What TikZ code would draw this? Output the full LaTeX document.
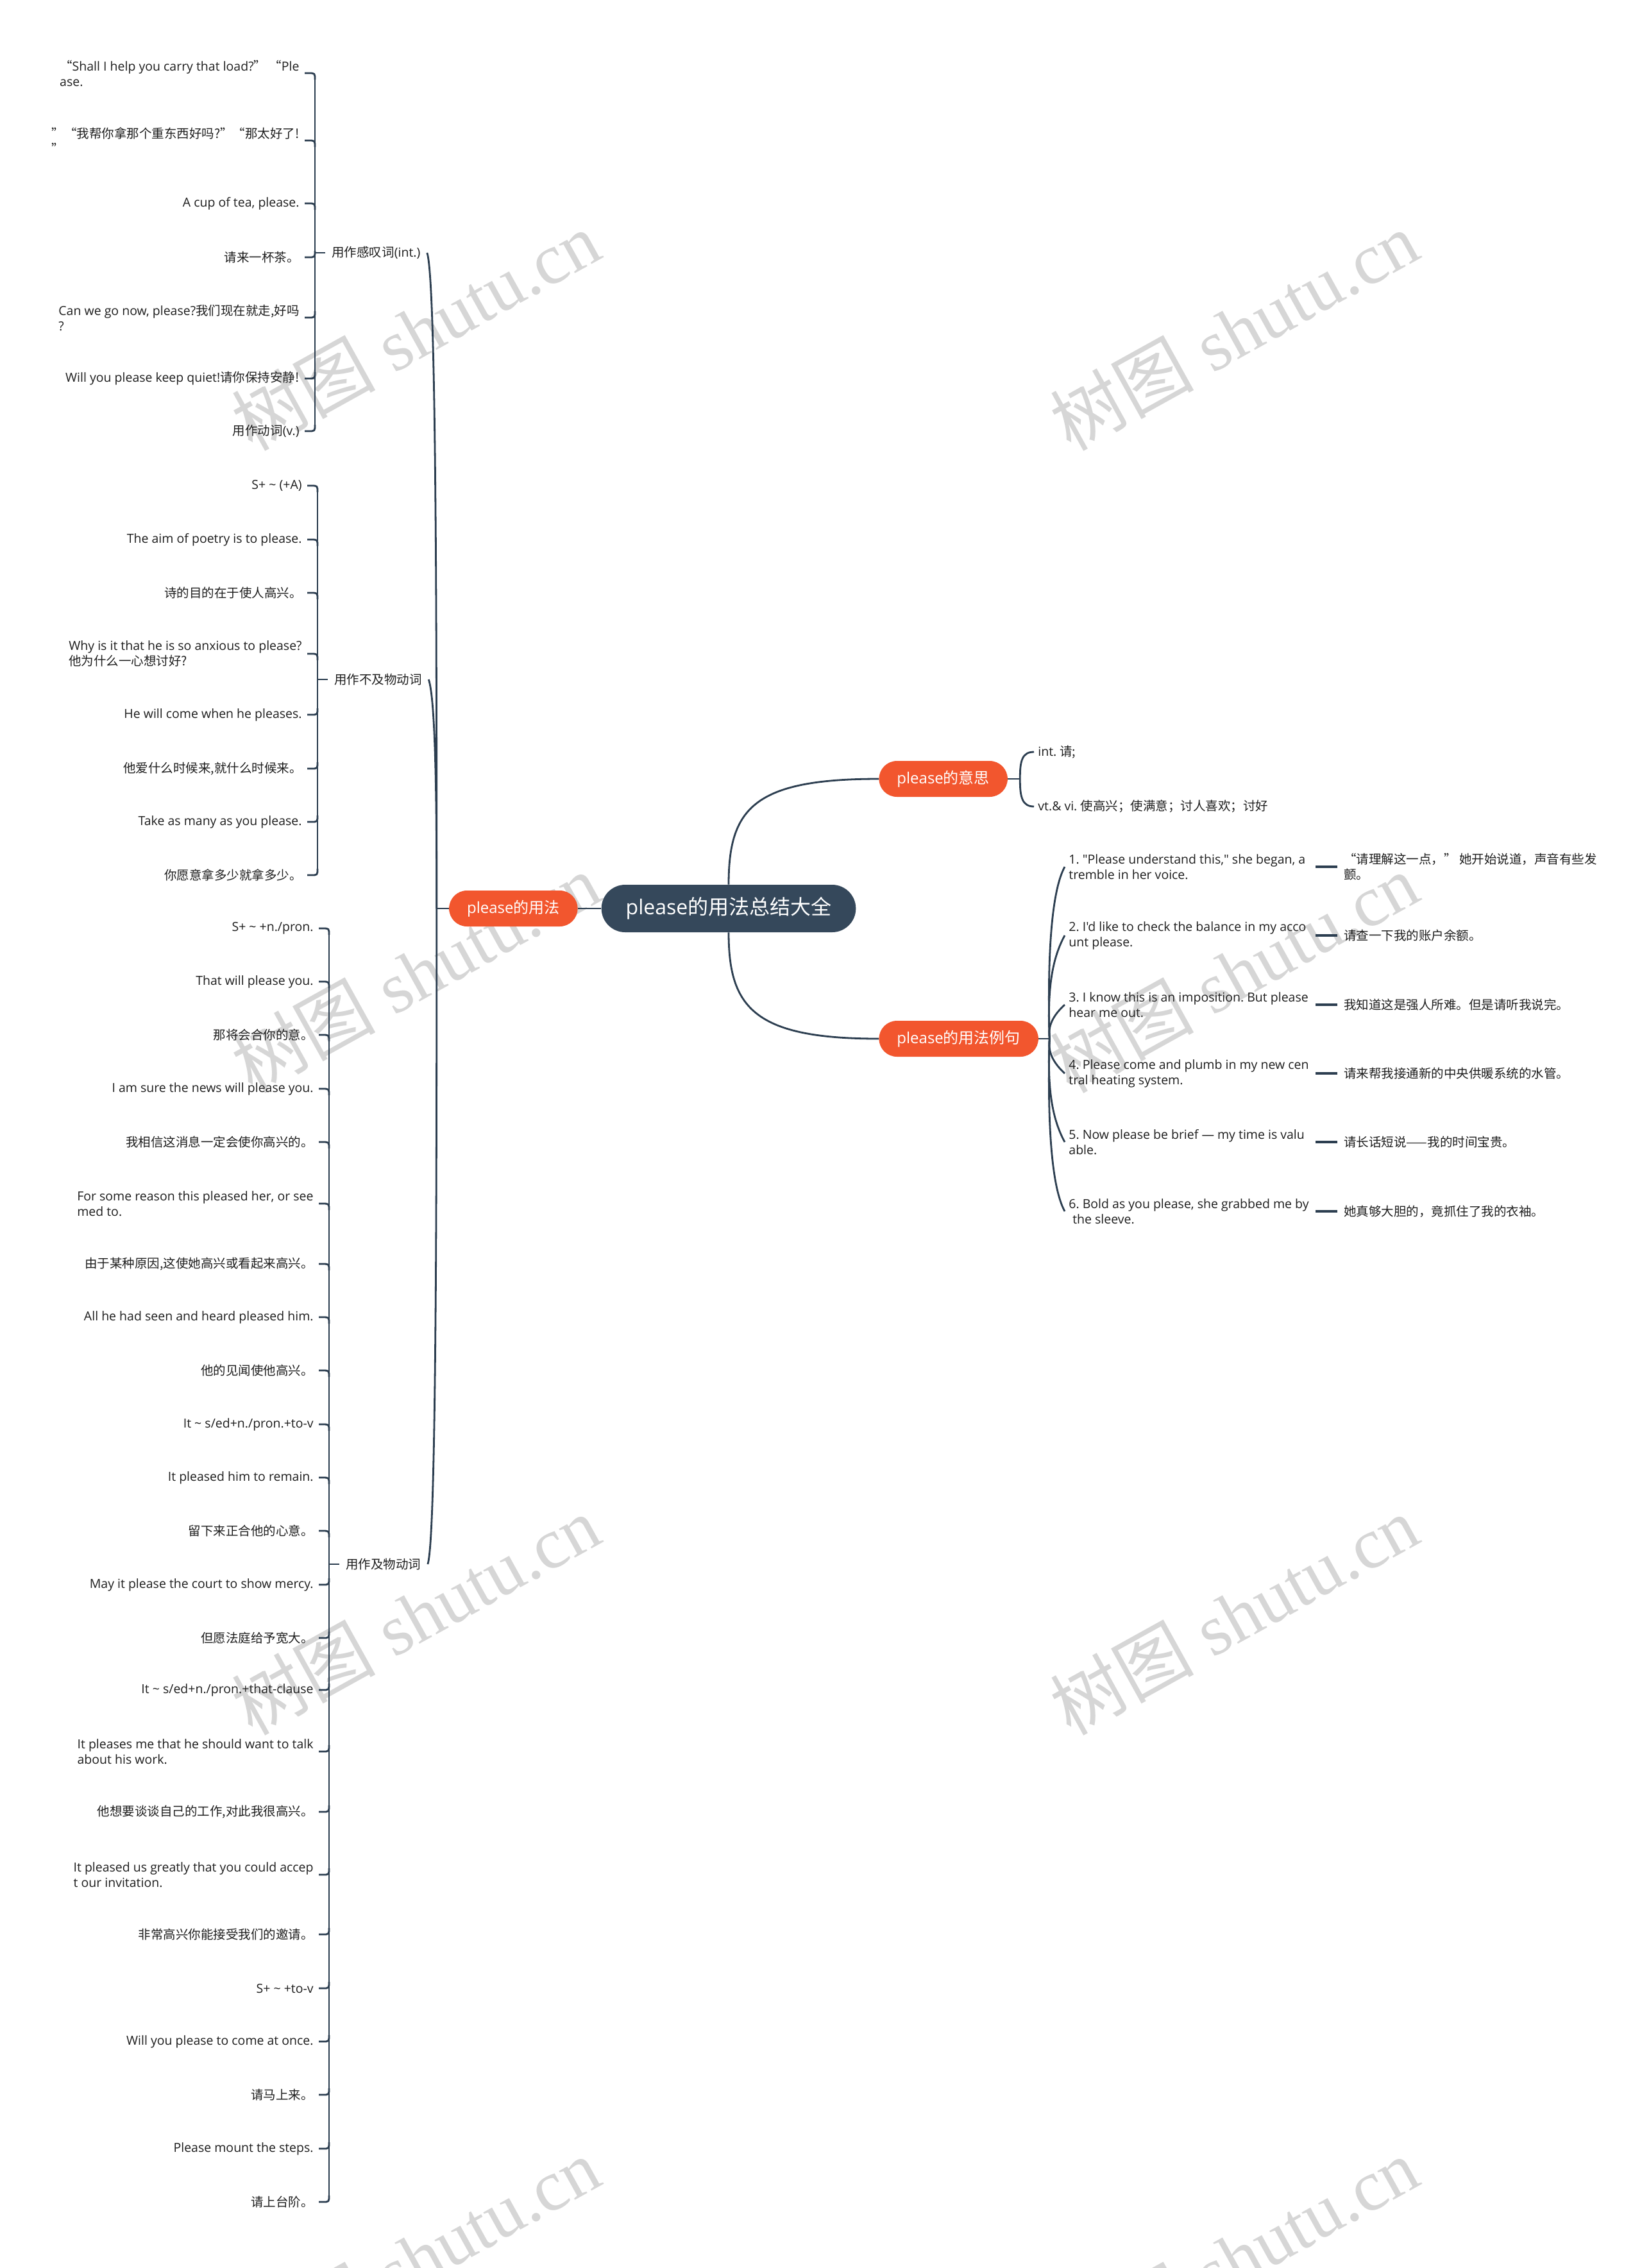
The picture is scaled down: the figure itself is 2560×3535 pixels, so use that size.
\documentclass[tikz,border=0pt]{standalone}
\usepackage{fontspec}
\setmainfont{Open Sans}[Ligatures=TeXOff]
\newfontfamily\zhfont{Noto Sans CJK SC}
\newfontfamily\wmserif{Liberation Serif}
\newcommand\zh[1]{{\zhfont #1}}
\usetikzlibrary{calc}
\definecolor{lineC}{RGB}{44,62,80}
\definecolor{rootC}{RGB}{53,72,91}
\definecolor{orangeC}{RGB}{242,86,46}
\definecolor{txtC}{RGB}{30,30,30}
\definecolor{wmC}{RGB}{214,214,214}
\newcommand\LItem[5]{%
  \node[item] (#1) at (#2,#3) {#5};
  \draw[conn] (#1.east) -- ++(6,0) .. controls +(10,0) .. ++(10,#4*10) coordinate (h#1);
}
\newcommand\RItem[7]{%
  \node[ritem] (#1) at (1660,#2) {#3};
  \draw[conn] (J2) .. controls #6 and #7 .. (#1.west);
  \node[tr] (#4) at (2085,#2) {#5};
  \draw[conn,line width=2pt] (#4.west) -- ++(-34,0);
}
\begin{document}
\frenchspacing
\begin{tikzpicture}[x=0.5pt,y=-0.5pt,
  conn/.style={draw=lineC,line width=1.4pt},
  txt/.style={text=txtC,inner ysep=0pt,font=\fontsize{9.75}{12}\selectfont},
  item/.style={txt,anchor=east,inner xsep=4pt,align=left},
  ritem/.style={txt,anchor=west,inner xsep=3pt,align=left},
  mitem/.style={txt,anchor=west,inner xsep=3pt},
  tr/.style={txt,anchor=west,inner xsep=5pt,align=left},
  grp/.style={txt,anchor=west,inner xsep=5pt},
  obox/.style={fill=orangeC,text=white,rounded corners=14pt,minimum height=28pt,inner xsep=14pt,inner ysep=0pt,font=\fontsize{12}{14}\selectfont},
  rootbox/.style={fill=rootC,text=white,rounded corners=18.5pt,minimum height=37pt,inner xsep=19pt,inner ysep=0pt,font=\fontsize{16}{19}\selectfont},
  wm/.style={text=wmC,rotate=29,inner sep=0pt,font=\wmserif\fontsize{56}{60}\selectfont},
]
\fill[white] (0,0) rectangle (2560,3535);
\useasboundingbox (0,0) rectangle (2560,3535);

% watermarks
\foreach \wx in {648,1924}{
  \foreach \wy in {515,1516,2517,3518}{
    \node[wm] at (\wx,\wy) {\zh{树图} shutu.cn};
  }
}

% central nodes
\node[rootbox] (root) at (1136,1416) {please\zh{的用法总结大全}};
\node[obox,anchor=east] (yf) at (901,1416) {please\zh{的用法}};
\node[obox,anchor=west] (ys) at (1370,1214) {please\zh{的意思}};
\node[obox,anchor=west] (lj) at (1370,1619) {please\zh{的用法例句}};

\draw[conn] (yf.east) -- (root.west);
\draw[conn] (root.north) .. controls (1136,1260) and (1175,1214) .. (ys.west);
\draw[conn] (root.south) .. controls (1136,1570) and (1175,1619) .. (lj.west);

% left main branch
\draw[conn] (yf.west) -- ++(-19,0) coordinate (J0);
\node[grp] (g1) at (507,394) {\zh{用作感叹词}(int.)};
\node[grp] (g2) at (511,1059) {\zh{用作不及物动词}};
\node[grp] (g3) at (529,2438) {\zh{用作及物动词}};
\draw[conn] (J0) .. controls (681,900) and (679,430) .. (g1.east);
\draw[conn] (J0) .. controls (681,1250) and (679,1090) .. (g2.east);
\draw[conn] (J0) .. controls (681,1950) and (679,2405) .. (g3.east);
\draw[conn] (g1.west) -- ++(-16,0);
\draw[conn] (g2.west) -- ++(-16,0);
\draw[conn] (g3.west) -- ++(-16,0);

% group 1
\LItem{a1}{475}{114}{1}{\zh{“}Shall I help you carry that load?\zh{” “}Ple\\ase.}
\LItem{a2}{475}{219}{1}{\zh{”“我帮你拿那个重东西好吗?”“那太好了!}\\\zh{”}}
\LItem{a3}{475}{317}{1}{A cup of tea, please.}
\LItem{a4}{475}{401}{-1}{\zh{请来一杯茶。}}
\LItem{a5}{475}{495}{-1}{Can we go now, please?\zh{我们现在就走,好吗}\\?}
\LItem{a6}{475}{590}{-1}{Will you please keep quiet!\zh{请你保持安静!}}
\LItem{a7}{475}{672}{-1}{\zh{用作动词}(v.)}
\draw[conn] (ha1) -- (ha7);

% group 2
\LItem{b1}{479}{757}{1}{S+ \textasciitilde{} (+A)}
\LItem{b2}{479}{841}{1}{The aim of poetry is to please.}
\LItem{b3}{479}{924}{1}{\zh{诗的目的在于使人高兴。}}
\LItem{b4}{479}{1019}{1}{Why is it that he is so anxious to please?\\\zh{他为什么一心想讨好?}}
\LItem{b5}{479}{1114}{-1}{He will come when he pleases.}
\LItem{b6}{479}{1198}{-1}{\zh{他爱什么时候来,就什么时候来。}}
\LItem{b7}{479}{1281}{-1}{Take as many as you please.}
\LItem{b8}{479}{1364}{-1}{\zh{你愿意拿多少就拿多少。}}
\draw[conn] (hb1) -- (hb8);

% group 3
\LItem{c1}{497}{1447}{1}{S+ \textasciitilde{} +n./pron.}
\LItem{c2}{497}{1530}{1}{That will please you.}
\LItem{c3}{497}{1613}{1}{\zh{那将会合你的意。}}
\LItem{c4}{497}{1697}{1}{I am sure the news will please you.}
\LItem{c5}{497}{1780}{1}{\zh{我相信这消息一定会使你高兴的。}}
\LItem{c6}{497}{1876}{1}{For some reason this pleased her, or see\\med to.}
\LItem{c7}{497}{1970}{1}{\zh{由于某种原因,这使她高兴或看起来高兴。}}
\LItem{c8}{497}{2053}{1}{All he had seen and heard pleased him.}
\LItem{c9}{497}{2136}{1}{\zh{他的见闻使他高兴。}}
\LItem{c10}{497}{2220}{1}{It \textasciitilde{} s/ed+n./pron.+to-v}
\LItem{c11}{497}{2303}{1}{It pleased him to remain.}
\LItem{c12}{497}{2386}{1}{\zh{留下来正合他的心意。}}
\LItem{c13}{497}{2470}{-1}{May it please the court to show mercy.}
\LItem{c14}{497}{2553}{-1}{\zh{但愿法庭给予宽大。}}
\LItem{c15}{497}{2634}{-1}{It \textasciitilde{} s/ed+n./pron.+that-clause}
\LItem{c16}{497}{2730}{-1}{It pleases me that he should want to talk\\about his work.}
\LItem{c17}{497}{2824}{-1}{\zh{他想要谈谈自己的工作,对此我很高兴。}}
\LItem{c18}{497}{2922}{-1}{It pleased us greatly that you could accep\\t our invitation.}
\LItem{c19}{497}{3015}{-1}{\zh{非常高兴你能接受我们的邀请。}}
\LItem{c20}{497}{3099}{-1}{S+ \textasciitilde{} +to-v}
\LItem{c21}{497}{3182}{-1}{Will you please to come at once.}
\LItem{c22}{497}{3265}{-1}{\zh{请马上来。}}
\LItem{c23}{497}{3349}{-1}{Please mount the steps.}
\LItem{c24}{497}{3432}{-1}{\zh{请上台阶。}}
\draw[conn] (hc1) -- (hc24);

% right: meaning
\draw[conn] (ys.east) -- ++(19,0) coordinate (J1);
\node[mitem] (m1) at (1612,1172) {int. \zh{请;}};
\node[mitem] (m2) at (1612,1257) {vt.\& vi. \zh{使高兴；使满意；讨人喜欢；讨好}};
\draw[conn] (J1) .. controls (1590,1185) and (1594,1172) .. (m1.west);
\draw[conn] (J1) .. controls (1590,1243) and (1594,1257) .. (m2.west);

% right: examples
\draw[conn] (lj.east) -- ++(17,0) coordinate (J2);
\RItem{e1}{1351}{1. "Please understand this," she began, a\\tremble in her voice.}{t1}{\zh{“请理解这一点，” 她开始说道，声音有些发}\\\zh{颤。}}{(1633,1500)}{(1638,1391)}
\RItem{e2}{1458}{2. I'd like to check the balance in my acco\\unt please.}{t2}{\zh{请查一下我的账户余额。}}{(1633,1550)}{(1638,1498)}
\RItem{e3}{1566}{3. I know this is an imposition. But please\\hear me out.}{t3}{\zh{我知道这是强人所难。但是请听我说完。}}{(1634,1603)}{(1638,1586)}
\RItem{e4}{1673}{4. Please come and plumb in my new cen\\tral heating system.}{t4}{\zh{请来帮我接通新的中央供暖系统的水管。}}{(1634,1635)}{(1638,1653)}
\RItem{e5}{1780}{5. Now please be brief — my time is valu\\able.}{t5}{\zh{请长话短说——我的时间宝贵。}}{(1633,1688)}{(1638,1740)}
\RItem{e6}{1888}{6. Bold as you please, she grabbed me by\\\hspace*{0.3em}the sleeve.}{t6}{\zh{她真够大胆的，竟抓住了我的衣袖。}}{(1633,1740)}{(1638,1848)}
\end{tikzpicture}
\end{document}
